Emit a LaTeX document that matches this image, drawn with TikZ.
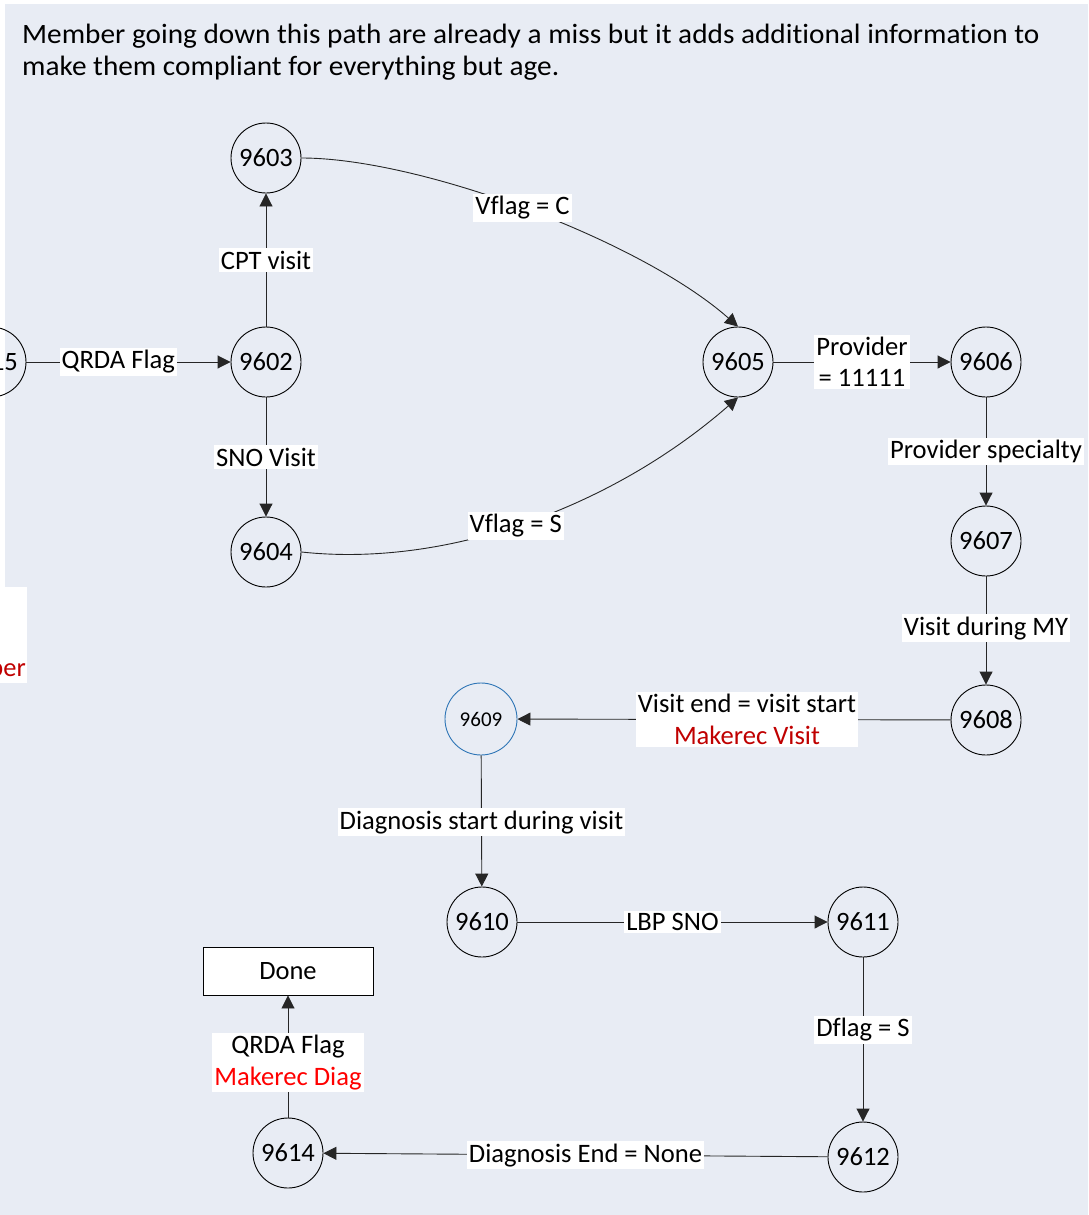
\documentclass[tikz,border=0pt]{standalone}
\usepackage{fontspec}
\setmainfont{Carlito}[Ligatures=CommonOff]
\newfontfamily\headfont[FakeStretch=1.046,Ligatures=CommonOff]{Carlito}
\usetikzlibrary{arrows.meta}
\definecolor{bgc}{HTML}{E8ECF4}
\definecolor{dred}{HTML}{C00000}
\definecolor{bred}{HTML}{FF0000}
\definecolor{blueo}{HTML}{2E75B6}
\begin{document}
\begin{tikzpicture}[x=1pt,y=-1pt,
  st/.style={circle, draw=black, line width=0.9pt, minimum size=70pt, inner sep=0pt, font=\fontsize{26.5}{31.5}\selectfont},
  lbl/.style={fill=white, inner xsep=2pt, inner ysep=2.5pt, font=\fontsize{26.6}{31.5}\selectfont, align=center, text=black},
  arr/.style={draw=black!85, line width=0.9pt, -{Triangle[length=13pt,width=13pt]}},
  big/.style={font=\fontsize{26.5}{32}\selectfont},
  head/.style={font=\headfont\fontsize{28}{31}\selectfont}
]
\fill[white] (0,0) rectangle (1088,1215);
\fill[bgc] (5,4) rectangle (1088,1215);
\fill[bgc] (0,683) rectangle (5,1215);
\useasboundingbox (0,0) rectangle (1088,1215);

% heading
\node[anchor=base west, inner sep=0pt, head] (h1) at (22,44) {Member going down this path are already a miss but it adds additional information to};
\node[anchor=base west, inner sep=0pt, head] (h2) at (22,75) {make them compliant for everything but age.};

% partial label at left
\node[fill=white, anchor=north east, minimum width=27pt, minimum height=96pt, inner sep=0pt] (part) at (27,587) {};
\node[anchor=base east, inner sep=0pt, text=dred, big] (ber) at (26,676) {ber};

% states
\node[st] (n9615) at (-9,362) {9615};
\node[st] (n9602) at (266,362) {9602};
\node[st] (n9603) at (266,158) {9603};
\node[st] (n9604) at (266,552) {9604};
\node[st] (n9605) at (738,362) {9605};
\node[st] (n9606) at (986,362) {9606};
\node[st] (n9607) at (986,541) {9607};
\node[st] (n9608) at (986,720) {9608};
\node[st, draw=blueo, minimum size=72pt, font=\fontsize{21}{25}\selectfont] (n9609) at (481,719) {9609};
\node[st] (n9610) at (482,922) {9610};
\node[st] (n9611) at (863,922) {9611};
\node[st] (n9612) at (863,1157) {9612};
\node[st] (n9614) at (288,1153) {9614};
\node[draw=black, fill=white, line width=0.9pt, minimum width=170pt, minimum height=48pt, inner sep=0pt, big] (done) at (288,971) {Done};

% connectors
\draw[arr] (n9615) -- node[lbl, pos=0.45] {QRDA Flag} (n9602);
\draw[arr] (n9602) -- node[lbl, pos=0.5] {CPT visit} (n9603);
\draw[arr] (n9602) -- node[lbl, pos=0.5] {SNO Visit} (n9604);
\draw[arr] (n9603.east) .. controls (420,158) and (640,240) .. node[lbl, pos=0.49] {Vflag = C} (n9605.north);
\draw[arr] (n9604.east) .. controls (450,568) and (615,505) .. node[lbl, pos=0.47] {Vflag = S} (n9605.south);
\draw[arr] (n9605) -- node[lbl, pos=0.5] {Provider\\= 11111} (n9606);
\draw[arr] (n9606) -- node[lbl, pos=0.5] {Provider specialty} (n9607);
\draw[arr] (n9607) -- node[lbl, pos=0.48] {Visit during MY} (n9608);
\draw[arr] (n9608) -- node[lbl, pos=0.47] {Visit end = visit start\\\textcolor{dred}{Makerec Visit}} (n9609);
\draw[arr] (n9609) -- node[lbl, pos=0.51] {Diagnosis start during visit} (n9610);
\draw[arr] (n9610) -- node[lbl, pos=0.5] {LBP SNO} (n9611);
\draw[arr] (n9611) -- node[lbl, pos=0.44] {Dflag = S} (n9612);
\draw[arr] (n9612) -- node[lbl, pos=0.48] {Diagnosis End = None} (n9614);
\draw[arr] (n9614) -- node[lbl, pos=0.45] {QRDA Flag\\\textcolor{bred}{Makerec Diag}} (done);
\end{tikzpicture}
\end{document}
